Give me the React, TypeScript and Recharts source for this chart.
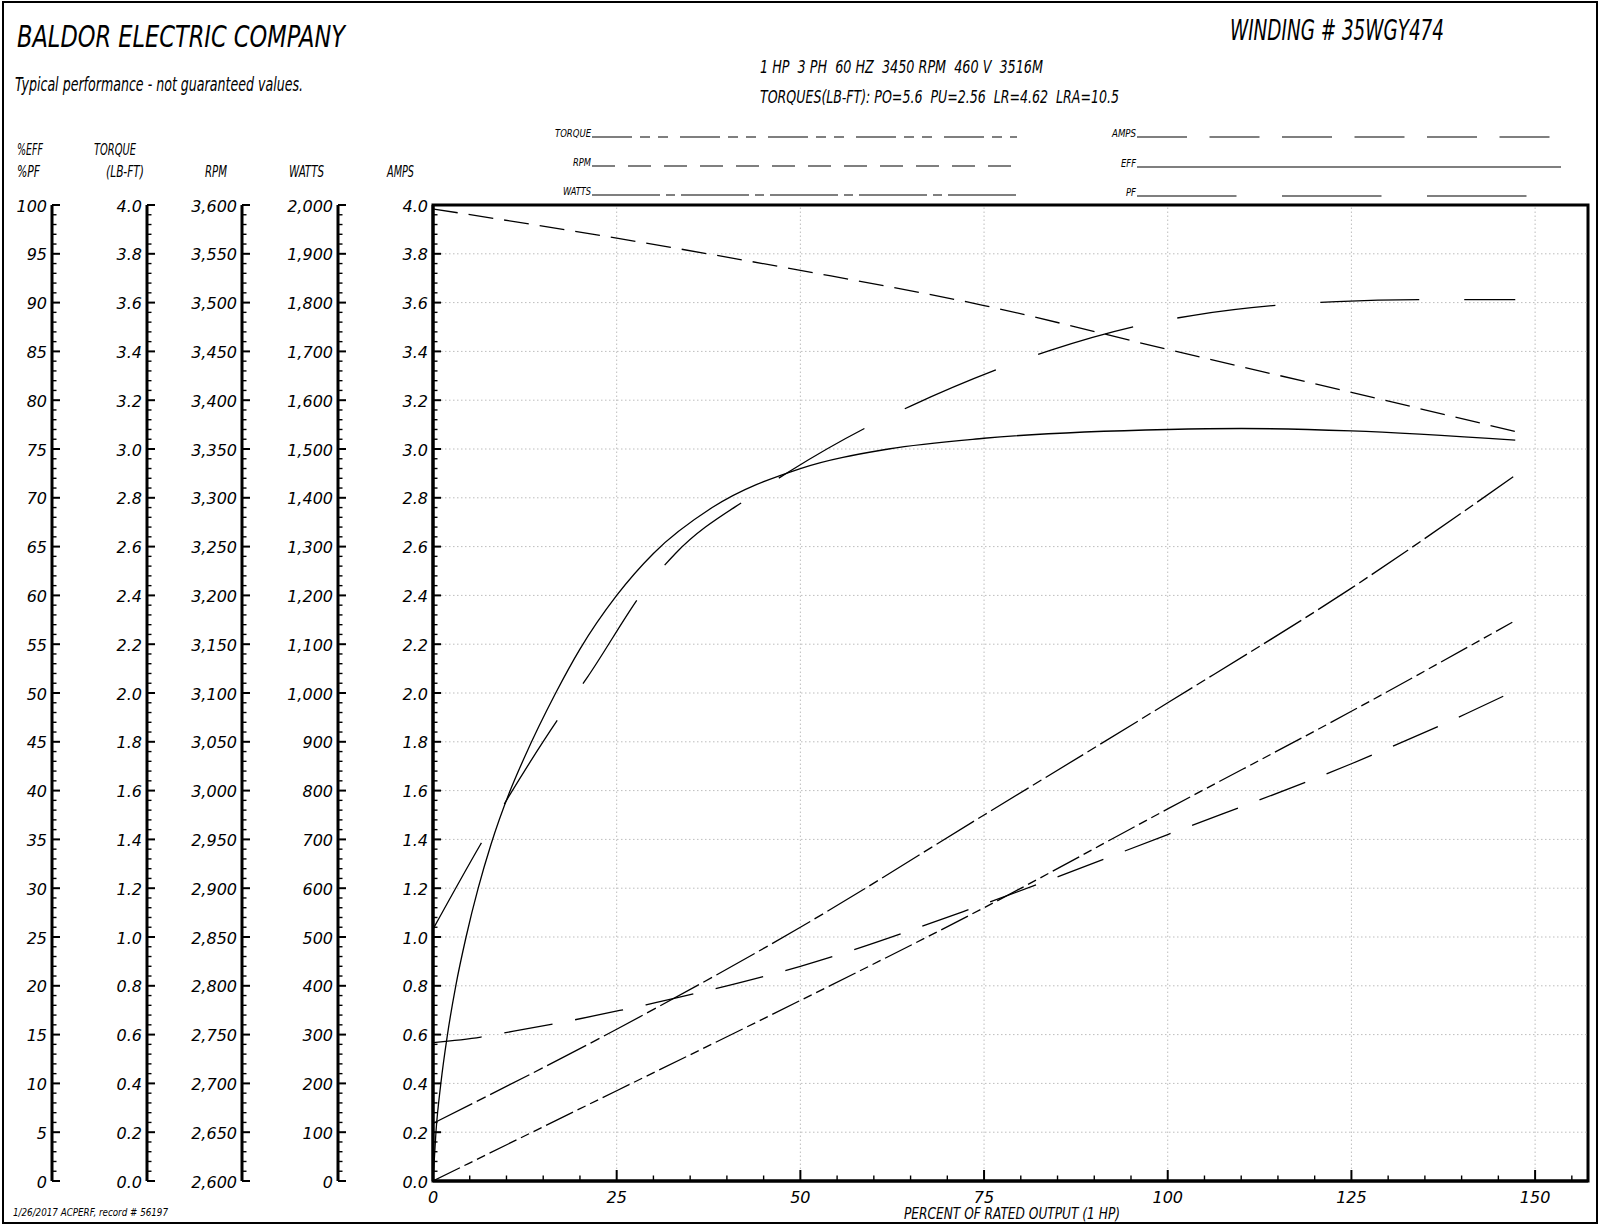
import React from "react";
import {
  ComposedChart,
  Line,
  XAxis,
  YAxis,
  ReferenceLine,
  ReferenceArea,
  Legend,
} from "recharts";

// percent of rated output (x) and the readings of each curve
const effLoad = [0, 0.4, 1.07, 1.97, 3.1, 4.5, 6.15, 7.9, 10.4, 12.5, 16.7, 20, 25, 30, 38, 50, 62, 75, 100, 110, 125, 147.3];
const effPct = [0, 5, 10, 15, 20, 25, 30, 34.5, 39.8, 43.5, 50, 54.5, 60, 64.3, 69, 73, 75, 76.1, 77, 77.1, 76.85, 75.9];

const pfLoad = [0, 6.4, 10, 17, 21, 29.5, 33, 43.6, 48.5, 60, 65, 78, 84, 97, 103.5, 116, 123, 136, 147.3];
const pfPct = [25.8, 34.4, 39, 47.3, 51.6, 61.3, 64.3, 70.3, 72.7, 77.6, 79.4, 83.5, 85.1, 87.8, 88.7, 89.8, 90.1, 90.3, 90.3];

const rpmLoad = [0, 25, 50, 75, 100, 125, 147.3];
const rpmValues = [3596, 3566, 3533, 3497, 3452, 3408, 3368];

const torqueLoad = [0, 25, 36.2, 50, 75, 100, 125, 146.9];
const torqueValues = [0, 0.37, 0.535, 0.74, 1.12, 1.525, 1.925, 2.29];

const wattsLoad = [0, 25, 50, 75, 100, 125, 147.4];
const wattsValues = [118, 311, 520, 750, 980, 1215, 1447];

const ampsLoad = [0, 6.5, 9.7, 16.3, 19.2, 25.9, 29, 35.5, 50, 75, 100, 125, 140.6, 146.6];
const ampsValues = [0.567, 0.59, 0.607, 0.643, 0.66, 0.702, 0.722, 0.767, 0.88, 1.135, 1.42, 1.71, 1.915, 2.0];

const toPoints = (xs: number[], ys: number[]) => xs.map((load, i) => ({ load, v: ys[i] }));

const steps = (from: number, to: number, step: number) => {
  const out: number[] = [];
  for (let i = 0; from + i * step <= to + 1e-9; i++) out.push(+(from + i * step).toFixed(4));
  return out;
};

const TICK_FONT = "'DejaVu Sans', Verdana, sans-serif";
const COND_FONT = "'Liberation Sans Narrow', 'DejaVu Sans Condensed', 'Open Sans', 'Noto Sans', sans-serif";

const isMajor = (v: number, base: number, major: number) => {
  const r = (v - base) / major;
  return Math.abs(r - Math.round(r)) < 1e-4;
};

const yTick = (base: number, major: number, fmt: (v: number) => string) => (props: any) => {
  const { x, y, payload } = props;
  const v = payload.value;
  const big = isMajor(v, base, major);
  return (
    <g>
      <line x1={x} x2={x + (big ? 8 : 4.5)} y1={y} y2={y} stroke="#000" strokeWidth={big ? 2 : 1.4} />
      {big && (
        <text
          x={x - 5}
          y={y + 1}
          textAnchor="end"
          dominantBaseline="central"
          fontFamily={TICK_FONT}
          fontStyle="italic"
          fontSize={16}
          fill="#000"
        >
          {fmt(v)}
        </text>
      )}
    </g>
  );
};

const xTick = (props: any) => {
  const { x, y, payload } = props;
  const v = payload.value;
  const big = isMajor(v, 0, 25);
  return (
    <g>
      <line x1={x} x2={x} y1={y} y2={y - (big ? 11 : 5.5)} stroke="#000" strokeWidth={big ? 2 : 1.4} />
      {big && (
        <text x={x} y={y + 22} textAnchor="middle" fontFamily={TICK_FONT} fontStyle="italic" fontSize={16} fill="#000">
          {v}
        </text>
      )}
    </g>
  );
};

const fixed1 = (v: number) => v.toFixed(1);
const comma = (v: number) => v.toLocaleString("en-US");

const legendRows = [
  { name: "TORQUE", tx: 591, ty: 137, x2: 1017, tw: 36, dash: "40 8 10 8 10 12" },
  { name: "RPM", tx: 591, ty: 166, x2: 1017, tw: 18, dash: "23 13" },
  { name: "WATTS", tx: 591, ty: 195, x2: 1017, tw: 28, dash: "68 6 9 6" },
  { name: "AMPS", tx: 1136, ty: 137, x2: 1550, tw: 24, dash: "50 22.5" },
  { name: "EFF", tx: 1136, ty: 167, x2: 1561, tw: 15, dash: undefined },
  { name: "PF", tx: 1136, ty: 196, x2: 1528, tw: 10, dash: "99.5 45.5" },
];

const renderLegend = () => (
  <svg width={1600} height={210} style={{ display: "block" }}>
    {legendRows.map((r) => (
      <g key={r.name}>
        <text
          x={r.tx}
          y={r.ty}
          textAnchor="end"
          fontFamily={COND_FONT}
          fontStyle="italic"
          fontSize={10}
          textLength={r.tw}
          lengthAdjust="spacingAndGlyphs"
        >
          {r.name}
        </text>
        <line x1={r.tx + 1} x2={r.x2} y1={r.ty} y2={r.ty} stroke="#000" strokeWidth={1.2} strokeDasharray={r.dash} />
      </g>
    ))}
  </svg>
);

const T = ({ x, y, w, size, children }: any) => (
  <text
    x={x}
    y={y}
    fontFamily={COND_FONT}
    fontStyle="italic"
    fontSize={size}
    textLength={w}
    lengthAdjust="spacingAndGlyphs"
    fill="#000"
    style={{ whiteSpace: "pre" }}
  >
    {children}
  </text>
);

const hGrid = steps(0.2, 3.8, 0.2);
const vGrid = [25, 50, 75, 100, 125, 150];

const axisLine = { stroke: "#000", strokeWidth: 3 };

export default function App() {
  return (
    <div style={{ position: "absolute", left: 0, top: 0, width: 1600, height: 1225, background: "#fff" }}>
      <ComposedChart width={1600} height={1225} margin={{ top: 205, right: 12, bottom: 0, left: 0 }}>
        <XAxis
          xAxisId="load"
          dataKey="load"
          type="number"
          domain={[0, 157.2]}
          ticks={steps(0, 155, 5)}
          interval={0}
          height={44}
          tickSize={0}
          tickMargin={0}
          tick={xTick}
          tickLine={false}
          axisLine={axisLine}
          allowDataOverflow
        />
        {/* left axes are stacked outward from the plot in id order */}
        <YAxis yAxisId="a_amps" type="number" domain={[0, 4]} ticks={steps(0, 4, 0.04)} interval={0} width={95}
          tickSize={0} tickMargin={0} tickLine={false} tick={yTick(0, 0.2, fixed1)} axisLine={axisLine} />
        <YAxis yAxisId="b_watts" type="number" domain={[0, 2000]} ticks={steps(0, 2000, 20)} interval={0} width={96}
          tickSize={0} tickMargin={0} tickLine={false} tick={yTick(0, 100, comma)} axisLine={axisLine} />
        <YAxis yAxisId="c_rpm" type="number" domain={[2600, 3600]} ticks={steps(2600, 3600, 10)} interval={0} width={95}
          tickSize={0} tickMargin={0} tickLine={false} tick={yTick(2600, 50, comma)} axisLine={axisLine} />
        <YAxis yAxisId="d_torque" type="number" domain={[0, 4]} ticks={steps(0, 4, 0.04)} interval={0} width={95}
          tickSize={0} tickMargin={0} tickLine={false} tick={yTick(0, 0.2, fixed1)} axisLine={axisLine} />
        <YAxis yAxisId="e_eff" type="number" domain={[0, 100]} ticks={steps(0, 100, 1)} interval={0} width={52}
          tickSize={0} tickMargin={0} tickLine={false} tick={yTick(0, 5, String)} axisLine={axisLine} />

        {hGrid.map((v) => (
          <ReferenceLine key={"h" + v} xAxisId="load" yAxisId="a_amps" y={v} stroke="#bdbdbd" strokeDasharray="1.5 2.5" />
        ))}
        {vGrid.map((v) => (
          <ReferenceLine key={"v" + v} xAxisId="load" yAxisId="a_amps" x={v} stroke="#bdbdbd" strokeDasharray="1.5 2.5" />
        ))}

        <Line data={toPoints(rpmLoad, rpmValues)} xAxisId="load" yAxisId="c_rpm" dataKey="v" name="RPM" type="monotone"
          dot={false} stroke="#000" strokeWidth={1.3} strokeDasharray="25 11" isAnimationActive={false} />
        <Line data={toPoints(effLoad, effPct)} xAxisId="load" yAxisId="e_eff" dataKey="v" name="EFF" type="monotone"
          dot={false} stroke="#000" strokeWidth={1.3} isAnimationActive={false} />
        <Line data={toPoints(pfLoad, pfPct)} xAxisId="load" yAxisId="e_eff" dataKey="v" name="PF" type="monotone"
          dot={false} stroke="#000" strokeWidth={1.3} strokeDasharray="99 45" isAnimationActive={false} />
        <Line data={toPoints(torqueLoad, torqueValues)} xAxisId="load" yAxisId="d_torque" dataKey="v" name="TORQUE" type="monotone"
          dot={false} stroke="#000" strokeWidth={1.3} strokeDasharray="30 5 9 5 9 5" isAnimationActive={false} />
        <Line data={toPoints(wattsLoad, wattsValues)} xAxisId="load" yAxisId="b_watts" dataKey="v" name="WATTS" type="monotone"
          dot={false} stroke="#000" strokeWidth={1.3} strokeDasharray="44 5 10 5" isAnimationActive={false} />
        <Line data={toPoints(ampsLoad, ampsValues)} xAxisId="load" yAxisId="a_amps" dataKey="v" name="AMPS" type="monotone"
          dot={false} stroke="#000" strokeWidth={1.3} strokeDasharray="49 23" isAnimationActive={false} />

        <ReferenceArea xAxisId="load" yAxisId="a_amps" x1={0} x2={157.2} y1={0} y2={4} fill="none" fillOpacity={0}
          stroke="#000" strokeWidth={3} ifOverflow="visible" />

        <Legend
          layout="vertical"
          align="center"
          verticalAlign="middle"
          width={1600}
          height={210}
          wrapperStyle={{ left: 0, top: 0 }}
          content={renderLegend}
        />
      </ComposedChart>

      <svg width={1600} height={1225} style={{ position: "absolute", left: 0, top: 0, pointerEvents: "none" }}>
        <rect x={3} y={2} width={1594} height={1221} fill="none" stroke="#000" strokeWidth={2} />
        <T x={17} y={47} w={328} size={30}>BALDOR ELECTRIC COMPANY</T>
        <T x={15} y={91} w={288} size={20}>Typical performance - not guaranteed values.</T>
        <T x={1230} y={40} w={214} size={28}>WINDING # 35WGY474</T>
        <T x={760} y={73} w={283} size={17}>1 HP  3 PH  60 HZ  3450 RPM  460 V  3516M</T>
        <T x={760} y={103} w={359} size={17}>TORQUES(LB-FT): PO=5.6  PU=2.56  LR=4.62  LRA=10.5</T>
        <T x={17} y={155} w={26} size={16}>%EFF</T>
        <T x={17} y={177} w={23} size={16}>%PF</T>
        <T x={94} y={155} w={42} size={16}>TORQUE</T>
        <T x={106} y={177} w={38} size={16}>(LB-FT)</T>
        <T x={205} y={177} w={22} size={16}>RPM</T>
        <T x={289} y={177} w={35} size={16}>WATTS</T>
        <T x={387} y={177} w={27} size={16}>AMPS</T>
        <T x={904} y={1219} w={216} size={15}>PERCENT OF RATED OUTPUT (1 HP)</T>
        <T x={13} y={1216} w={155} size={11}>1/26/2017 ACPERF, record # 56197</T>
      </svg>
    </div>
  );
}
